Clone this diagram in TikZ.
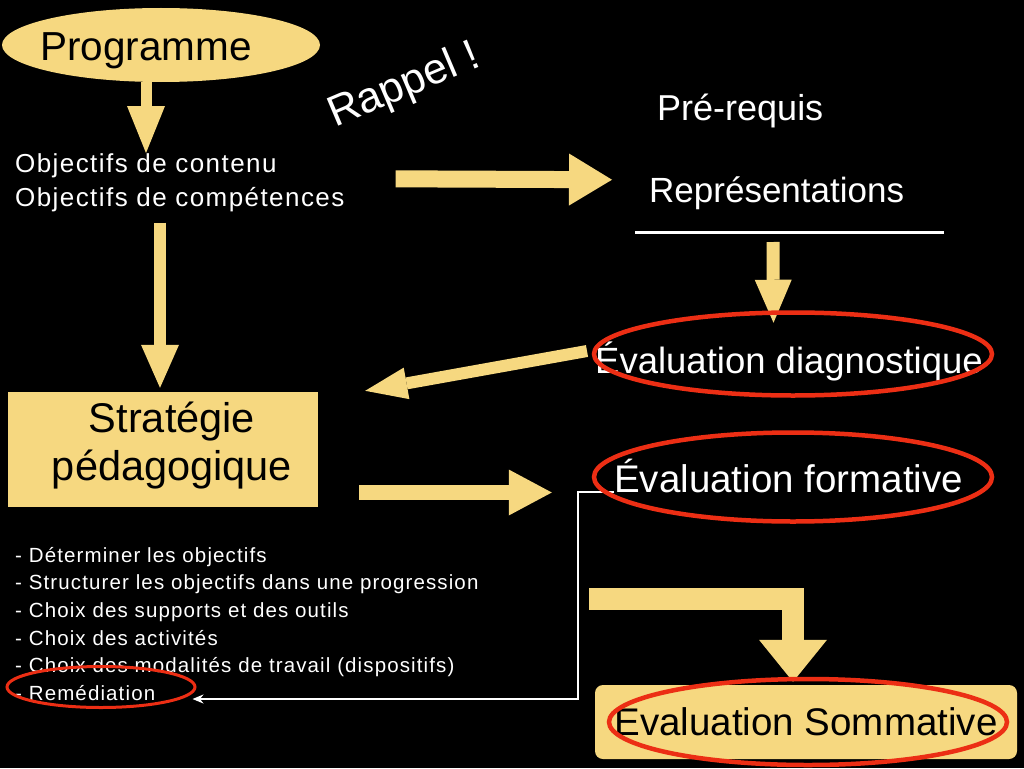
\documentclass[tikz,border=0pt]{standalone}
\usepackage{fontspec}
\setmainfont{Liberation Sans}
\newfontfamily\widefont{Liberation Sans}[LetterSpace=5.5]
\usepackage{xcolor}
\usetikzlibrary{shapes,arrows.meta,positioning,calc}
\definecolor{parch}{RGB}{246,216,128}
\definecolor{ringred}{RGB}{236,46,20}
\pgfdeclarelayer{front}
\pgfsetlayers{main,front}

\begin{document}
\begin{tikzpicture}[x=1pt, y=-1pt,
    fat/.style n args={3}{draw=parch, line width=#1, -{Triangle[width=#2, length=#3, line width=0pt]}},
    ring/.style={draw=ringred, line width=#1, ellipse, inner sep=0pt},
    ring/.default=4.5pt,
    wtxt/.style={text=white, inner sep=0pt}]
    % Fond
    \fill[black] (0,0) rectangle (1024,768);
    \useasboundingbox (0,0) rectangle (1024,768);

    % Programme et objectifs
    \node[ellipse, fill=parch, minimum width=318pt, minimum height=74pt, inner sep=0pt] (prog) at (161,45) {};
    \node[anchor=base, inner sep=0pt, font=\fontsize{40.5}{46}\selectfont] (progtxt) at (146,60) {Programme};
    \node[wtxt, anchor=north west, align=left, font=\widefont\fontsize{26}{34}\selectfont] (obj) at (15,153) {Objectifs de contenu\\Objectifs de compétences};
    \node[wtxt, anchor=base west, rotate=23, font=\fontsize{43}{50}\selectfont] (rappel) at (335,128) {Rappel !};

    % Pre-requis et representations
    \node[wtxt, anchor=base west, font=\fontsize{36}{43}\selectfont] (prereq) at (657,120) {Pré-requis};
    \node[wtxt, anchor=base west, font=\fontsize{35}{42}\selectfont] (rep) at (649,202) {Représentations};
    \draw[white, line width=3pt] ($(rep.base west)+(-14,30)$) coordinate (ligne) -- ++(309,0);

    % Strategie
    \node[fill=parch, minimum width=310pt, minimum height=115pt] (strat) at (163,449.5) {};
    \node[anchor=base, align=center, inner sep=0pt, font=\fontsize{41.5}{48}\selectfont] (strattxt) at (172,480) {Stratégie\\pédagogique};

    % Evaluations
    \node[wtxt, anchor=base west, font=\fontsize{36.5}{44}\selectfont] (diag) at (595,373) {Évaluation diagnostique};
    \node[wtxt, anchor=base west, font=\fontsize{38.5}{46}\selectfont] (form) at (614,492) {Évaluation formative};
    \node[fill=parch, rounded corners=8pt, minimum width=422pt, minimum height=74pt, font=\fontsize{38.5}{46}\selectfont] (somm) at (806,722) {Evaluation Sommative};

    % Liste
    \node[wtxt, anchor=north west, align=left, font=\widefont\fontsize{20.5}{27.6}\selectfont] (liste) at (15,547) {- Déterminer les objectifs\\- Structurer les objectifs dans une progression\\- Choix des supports et des outils\\- Choix des activités\\- Choix des modalités de travail (dispositifs)\\- Remédiation};

    % Cercles rouges
    \begin{pgfonlayer}{front}
        \node[ring, minimum width=398pt, minimum height=83pt] (diagring) at (793,354) {};
        \node[ring, minimum width=398pt, minimum height=89pt] (formring) at (793,477) {};
        \node[ring, minimum width=398pt, minimum height=86pt] (sommring) at (808,722) {};
        \node[ring=3pt, minimum width=188pt, minimum height=41pt] (remring) at (101,687) {};
    \end{pgfonlayer}

    % Fleches
    \draw[fat={11pt}{38pt}{47pt}] (progtxt.center |- prog.south) -- (progtxt.center |- obj.north);
    \draw[fat={12pt}{38pt}{43pt}] ($(obj.south -| strat.north)+(-3,11)$) -- ($(strat.north)+(-3,-4)$);
    \draw[fat={17pt}{52pt}{43pt}] ($(obj.east)+(51,-3.5)$) -- ($(rep.west)+(-37,-13)$);
    \draw[fat={13pt}{37pt}{43pt}] ($(ligne)+(138,10)$) -- ($(diagring.north)+(-19.5,12.5)$);
    \draw[fat={12pt}{32pt}{42pt}] ($(diag.base west)+(-8,-22)$) -- ($(strat.north east)+(47,-1)$);
    \draw[fat={15pt}{46pt}{43pt}] ($(strat.east)+(41,43)$) -- ($(formring.west)+(-40,15.5)$);
    \draw[fat={22pt}{68pt}{42pt}] ($(formring.south)+(-204,75)$) -| ($(somm.north)+(-13,-3)$);

    % Renvoi vers la remediation
    \draw[white, line width=2.5pt, -{Stealth[length=11pt, width=9pt]}] (form.base west) -- ++(-36,0) |- ($(remring.east)+(-4,12)$);
\end{tikzpicture}
\end{document}
